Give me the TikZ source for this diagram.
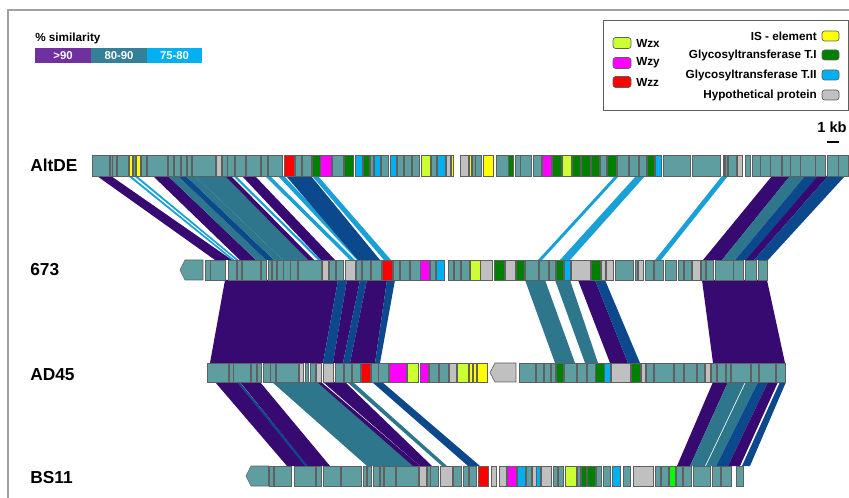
\documentclass[tikz,border=0pt]{standalone}
\usepackage{fontspec}
\setmainfont{Liberation Sans}
\usepackage{tikz}
\usetikzlibrary{positioning}
% gene colours
\definecolor{gte}{RGB}{95,158,160}
\definecolor{ggr}{RGB}{192,192,192}
\definecolor{gye}{RGB}{255,255,0}
\definecolor{ggn}{RGB}{0,128,0}
\definecolor{gma}{RGB}{255,0,255}
\definecolor{gre}{RGB}{255,0,0}
\definecolor{gyg}{RGB}{204,255,51}
\definecolor{glb}{RGB}{0,176,240}
\definecolor{glm}{RGB}{0,255,0}
\definecolor{gedge}{RGB}{95,95,95}
% similarity colours
\definecolor{bpu}{RGB}{54,10,112}
\definecolor{bte}{RGB}{45,118,140}
\definecolor{bbl}{RGB}{12,72,140}
\definecolor{blb}{RGB}{25,160,215}
\definecolor{lpu}{RGB}{112,48,160}
\definecolor{lte}{RGB}{52,128,152}
\definecolor{llb}{RGB}{0,176,240}
\definecolor{framegray}{RGB}{160,160,160}
\tikzset{
  gene/.style={draw=gedge, line width=0.45pt},
  band/.style={draw=none},
  trklabel/.style={font=\fontsize{13}{15}\selectfont\bfseries, anchor=west, inner sep=0pt},
  legtext/.style={font=\fontsize{8.8}{10}\selectfont\bfseries, inner sep=0pt},
  swatch/.style={draw=gedge, line width=0.5pt, rounded corners=2pt},
  simtext/.style={font=\fontsize{8.5}{10}\selectfont\bfseries, text=white, inner sep=0pt}
}

\begin{document}
\begin{tikzpicture}[x=0.75pt, y=-0.75pt]
  \useasboundingbox (0,0) rectangle (849,498);
  \draw[framegray, line width=0.8pt] (8,498) -- (8,10) -- (849,10);

  % similarity scale
  \node[legtext, anchor=west] (simtitle) at (35,38) {\% similarity};
  \fill[lpu] (35,48) rectangle (91,63);
  \fill[lte] (91,48) rectangle (147,63);
  \fill[llb] (147,48) rectangle (202,63);
  \node[simtext] (s90) at (63,55.5) {>90};
  \node[simtext] (s80) at (119,55.5) {80-90};
  \node[simtext] (s75) at (174.5,55.5) {75-80};

  % gene legend
  \draw[gedge, line width=0.6pt] (603,20) rectangle (848,110);
  \foreach \ty/\cl/\txt in {43/gyg/Wzx, 63/gma/Wzy, 82/gre/Wzz}{
    \draw[swatch, fill=\cl] (613,\ty-5.5) rectangle (631,\ty+5.5);
    \node[legtext, anchor=west] (leg\txt) at (636,\ty) {\txt};
  }
  \foreach \ty/\cl/\txt/\nm in {36/gye/IS - element/is, 55/ggn/Glycosyltransferase T.I/gta,
      75/glb/Glycosyltransferase T.II/gtb, 95/ggr/Hypothetical protein/hyp}{
    \draw[swatch, fill=\cl] (822,\ty-5) rectangle (839,\ty+5);
    \node[legtext, anchor=east] (leg\nm) at (817,\ty) {\txt};
  }

  % scale bar
  \node[legtext, font=\fontsize{11}{12}\selectfont\bfseries] (kb) at (832,127) {1 kb};
  \draw[line width=1.2pt] (827,142) -- (839,142);

  % track labels
  \node[trklabel] (altde) at (30,165) {AltDE};
  \node[trklabel] (n673) at (30,270) {673};
  \node[trklabel] (ad45) at (30,375) {AD45};
  \node[trklabel] (bs11) at (30,478) {BS11};

  % AltDE -> 673
  \foreach \a/\b/\c/\d/\cl in {97/111/215/232/bpu, 128/131/232/234.5/blb, 134/137/236/238.5/blb,
      153/168/240/256/bpu, 168/178/256/266/bte, 178/186/266/274/bbl, 186/195/274/283/bte,
      195/225/283/308/bte, 225/231/308/314/bpu, 233/236/318/321/blb, 242/255/321/335/bpu,
      265/270/350/355/blb, 278/284/357/362/blb, 286/311/358/380/bbl, 312/318/384/391/blb,
      615/619/538/542/blb, 636/645/560/570/blb, 722/728/655/661/blb,
      772/790/703/722/bpu, 790/805/722/735/bte, 805/820/735/748/bbl, 818/828/746/754/bpu,
      828/845/754/768/bbl}{
    \fill[band, \cl] (\a,176) -- (\b,176) -- (\d,260) -- (\c,260) -- cycle;
  }

  % 673 -> AD45
  \foreach \a/\b/\c/\d/\cl in {225/338/210/323/bpu, 338/347/323/333/bbl, 347/360/333/343/bpu,
      360/367/343/350/bbl, 367/387/350/375/bpu, 387/395/375/380/bbl,
      525/545/555/575/bte, 555/570/585/598/bte, 578/595/610/628/bpu, 595/605/628/640/bbl,
      702/767/713/785/bpu}{
    \fill[band, \cl] (\a,280) -- (\b,280) -- (\d,363) -- (\c,363) -- cycle;
  }

  % AD45 -> BS11
  \foreach \a/\b/\c/\d/\cl in {215/237/287/307/bpu, 237/239.5/305/308.5/bbl, 240/260/308/330/bpu,
      272/317/367/417/bte, 317/321/413/420/bpu, 323/345/420/432/bpu, 347/353/442/447/bte,
      372/382/468/480/bbl,
      713/728/677/690/bpu, 728/745/690/705/bte, 746/758/706/716/bte, 758/768/716/728/bbl,
      768/778/728/740/bpu, 780/786/742/750/bbl}{
    \fill[band, \cl] (\a,382) -- (\b,382) -- (\d,466) -- (\c,466) -- cycle;
  }

  % AltDE genes
  \foreach \xa/\xb/\cl in {92/109/gte, 110.5/112/gte, 112.5/116.5/gte, 117.5/128.5/gte, 129.5/132.5/gye,
      133.5/135/gte, 136/140.5/gye, 141.5/146/gte, 147/167/gte, 168.5/173.5/gte, 174/180/gte,
      181/186/gte, 187/191/gte, 192/215/gte, 216/221/ggr, 222/227/gte, 227.5/234/gte, 235/245/gte,
      246/260/gte, 261/267/gte, 268.5/282/gte, 284/294/gre, 295/301.5/gte, 302.5/311.5/gte,
      312.5/320/ggn, 320.5/331.5/gma, 332.5/343/gte, 344/353/ggn, 355/362.5/glb, 363.5/369.5/ggn,
      370/373.5/gte, 374/380/glb, 381.5/388.5/gte, 390/396/glb, 397.5/403.5/gte, 404/411.5/gte,
      412.5/419.5/gte, 421/430.5/gyg, 431.5/436/gte, 437/445/glb, 446/450.5/ggr, 451.5/453/gye,
      460/468/ggr, 469.5/471.5/gye, 472.5/475/gte, 475.5/481.5/gte, 483.5/493.5/gye, 496.5/508/gte,
      508.5/513.5/ggn, 515/520/gte, 520.5/531.5/gte, 533.5/541.5/gte, 542/551.5/gma, 552.5/561.5/ggn,
      562/571.5/gyg, 572.5/580.5/ggn, 581.5/590/ggn, 591/599/ggn, 600/606.5/gte, 607.5/616.5/ggn,
      617/628/gte, 629.5/638.5/gte, 639.5/646.5/gte, 647.5/654/ggn, 655/661.5/glb, 663.5/690/gte,
      692/720/gte, 723/724.5/gye, 725/727/gte, 728.5/736.5/gte, 737.5/742.5/ggr, 745/750/gte,
      752/760/gte, 760.5/770/gte, 770.5/781.5/gte, 782/790/gte, 790.5/800/gte, 800.5/815/gte,
      815.5/825/gte, 827/838/gte, 838.5/848/gte}{
    \draw[gene, fill=\cl] (\xa,155) rectangle (\xb,176);
  }

  % 673 genes
  \draw[gene, fill=gte] (180,270) -- (185,260) -- (203,260) -- (203,280) -- (185,280) -- cycle;
  \foreach \xa/\xb/\cl in {205/210/gte, 210.5/225/gte, 228.5/236.5/gte, 237/241.5/gte, 242/260/gte,
      261.5/266.5/gte, 268.5/271.5/gte, 272.5/276.5/gte, 277.5/283/gte, 283.5/290/gte, 290.5/297/gte,
      298.5/321.5/gte, 322.5/328.5/ggr, 329.5/335/gte, 336/343.5/gte, 345/355/ggr, 356/361.5/gte,
      362.5/370/gte, 371/381.5/gte, 382.5/392.5/gre, 393.5/399/gte, 400/409/gte, 410/420/gte,
      420.5/429.5/gma, 430/435/gte, 436.5/444/glb, 448.5/453.5/gte, 454/460/gte, 461/469.5/gte,
      470/480/gyg, 480.5/492.5/ggr, 494/504/ggn, 505/515/ggr, 516/524/ggn, 525/538.5/gte,
      539.5/548.5/gte, 549.5/555/gte, 556/563.5/ggn, 564/570/glb, 571/590/ggr, 591.5/600/ggn,
      601/605/ggr, 606/613.5/ggr, 615/633.5/gte, 635/637/gte, 638.5/643.5/ggr, 645/653.5/gte,
      654/663.5/gte, 665/676.5/gte, 678.5/683.5/gte, 684/691.5/gte, 692.5/700/ggr, 701/705/gte,
      706/713.5/gte, 715/733/gte, 733.5/743.5/gte, 745/756.5/gte, 758.5/767/gte}{
    \draw[gene, fill=\cl] (\xa,260) rectangle (\xb,280);
  }

  % AD45 genes
  \foreach \xa/\xb/\cl in {207/228/gte, 229.5/233/gte, 233.5/250/gte, 251.5/256.5/gte, 257/261.5/gte,
      263/270/gte, 270.5/275/gte, 276/298/gte, 299.5/303.5/ggr, 305/308.5/gte, 310/315/gte,
      316.5/321.5/ggr, 323.5/333.5/ggr, 335/343.5/gte, 344/351.5/gte, 352.5/360/gte, 361/370.5/gre,
      371.5/378/gte, 378.5/388.5/gte, 389.5/406.5/gma, 407.5/418.5/gyg, 420/428.5/gma,
      429.5/438.5/gte, 439.5/448.5/gte, 449.5/456.5/ggr, 457.5/468.5/gyg, 469.5/472.5/gye,
      473.5/476/gye, 477/487.5/gye, 519.5/535/gte, 536/543.5/gte, 544/550/gte, 551/555/gte,
      556/563.5/ggn, 564/576.5/gte, 577.5/586/gte, 587/595/gte, 595.5/604/ggn, 604.5/610.5/glb,
      611.5/630/ggr, 631/640.5/ggn, 641.5/645/ggr, 646/653.5/gte, 654/673.5/gte, 674/683.5/gte,
      684/696.5/gte, 697.5/704/gte, 705/710/ggr, 711/716.5/gte, 717.5/725/gte, 726/730.5/gte,
      731.5/750/gte, 751/758.5/gte, 759.5/775/gte, 776/785/gte}{
    \draw[gene, fill=\cl] (\xa,363) rectangle (\xb,382);
  }
  \draw[gene, fill=ggr] (490,372.5) -- (495,363) -- (516,363) -- (516,382) -- (495,382) -- cycle;

  % BS11 genes
  \draw[gene, fill=gte] (246,476) -- (251,466) -- (268.5,466) -- (268.5,486) -- (251,486) -- cycle;
  \foreach \xa/\xb/\cl in {269.5/273.5/gte, 274/291.5/gte, 294/315/gte, 316/321.5/gte, 323/340/gte,
      341/361.5/gte, 363/366.5/gte, 367/371.5/gte, 373/379.5/gte, 380/383.5/gte, 384/395/gte,
      396/418.5/gte, 419.5/426.5/ggr, 427.5/430/gte, 430.5/438.5/gte, 440/452.5/ggr, 453.5/461.5/gte,
      463/468.5/gte, 469.5/476.5/gte, 478.5/488.5/gre, 491.5/496.5/ggr, 499.5/506.5/ggr,
      507.5/516/gma, 517.5/525/glb, 526/531.5/gte, 532/536/ggr, 536.5/540/glb, 541/551.5/ggr,
      553.5/557.5/gte, 558.5/563.5/gte, 565/576/gyg, 577.5/580.5/gte, 581/586.5/ggn, 587/595/ggn,
      596/601.5/gte, 603/610.5/gte, 612/620.5/glb, 623.5/630.5/gte, 633/653.5/ggr, 655/660/gte,
      661/668.5/gte, 669.5/675/glm, 676/682.5/gte, 683.5/691.5/gte, 693/710.5/gte, 712/720/gte,
      721/731.5/gte, 736/743/gte}{
    \draw[gene, fill=\cl] (\xa,466) rectangle (\xb,486);
  }
\end{tikzpicture}
\end{document}
